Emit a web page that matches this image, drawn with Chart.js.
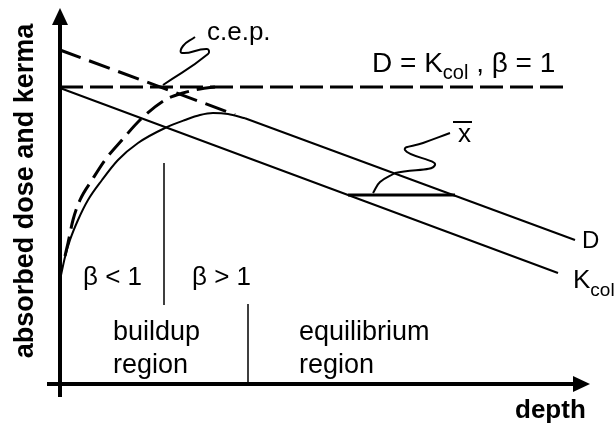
<!DOCTYPE html>
<html>
<head>
<meta charset="utf-8">
<script src="https://cdn.jsdelivr.net/npm/chart.js@4/dist/chart.umd.min.js"></script>
<style>
  body { margin: 0; background: #fff; }
  canvas { display: block; }
</style>
</head>
<body>
<canvas id="doseChart" width="614" height="426"></canvas>
<script>
// Depth / dose pairs, arbitrary units (origin at the axes corner)
const kcolLine = [[0, 296], [498, 111]];
const doseBuildup = [
  [0, 104], [5, 127], [10, 144], [18, 164], [28, 184], [42, 204], [58, 224],
  [78, 241], [105, 256], [125, 264], [140, 269], [153, 271], [168, 270],
  [185, 265.7],
];
const doseEquilibrium = [[185, 265.7], [515, 144]];
const doseExtrapolated = [[0, 334], [175, 269.4]];
const betaOneBuildup = [
  [5, 128], [8, 141], [13, 164], [20, 184], [32, 204], [45, 224], [62, 244],
  [80, 264], [105, 284], [123, 291], [140, 295], [155, 297],
];
const betaOneLevel = [[0, 297], [508, 297]];
const cepDivider = [[104, 221], [104, 79]];
const regionDivider = [[188, 80], [188, 0]];

// x-bar marker: horizontal step, angle arc and pointer squiggle
const shiftStep = [[288, 189], [395, 189]];
const shiftArc = [[313, 191], [320, 202], [335, 211]];
const shiftPointer = [[335, 211], [375, 219], [345, 234], [363, 241], [390, 251]];
const cepPointer = [[103, 299], [148, 330], [147, 335], [122, 331], [123, 338], [135, 347]];

const toPoints = (pairs) => pairs.map(([x, y]) => ({ x, y }));

function lineSet(pairs, opts) {
  return Object.assign({
    data: toPoints(pairs),
    showLine: true,
    borderColor: "#000",
    borderWidth: 2,
    pointRadius: 0,
    fill: false,
    clip: false,
    tension: 0,
  }, opts);
}

const FONT = '"Liberation Sans", Arial, sans-serif';

// Axes with arrowheads and all the text labels
const diagramPlugin = {
  id: "diagram",
  afterDatasetsDraw(chart) {
    const { ctx, scales } = chart;
    const px = (v) => scales.x.getPixelForValue(v);
    const py = (v) => scales.y.getPixelForValue(v);
    ctx.save();
    ctx.fillStyle = "#000";
    ctx.strokeStyle = "#000";
    ctx.lineWidth = 4;

    // dose axis
    ctx.beginPath();
    ctx.moveTo(px(0), py(-13));
    ctx.lineTo(px(0), py(360));
    ctx.stroke();
    ctx.beginPath();
    ctx.moveTo(px(0), py(376));
    ctx.lineTo(px(0) - 8, py(359));
    ctx.lineTo(px(0) + 8, py(359));
    ctx.closePath();
    ctx.fill();

    // depth axis
    ctx.beginPath();
    ctx.moveTo(px(-13), py(0));
    ctx.lineTo(px(515), py(0));
    ctx.stroke();
    ctx.beginPath();
    ctx.moveTo(px(530), py(0));
    ctx.lineTo(px(513), py(0) - 8);
    ctx.lineTo(px(513), py(0) + 8);
    ctx.closePath();
    ctx.fill();

    ctx.textBaseline = "alphabetic";
    ctx.textAlign = "left";

    // draws a run of [text, size, dy, bold] parts left to right
    const runs = (parts, x, y) => {
      let cx = px(x);
      parts.forEach(([t, size, dy, bold]) => {
        ctx.font = `${bold ? "bold " : ""}${size}px ${FONT}`;
        ctx.fillText(t, cx, py(y) + (dy || 0));
        cx += ctx.measureText(t).width;
      });
    };

    runs([["c.e.p.", 26]], 147, 344);
    runs([["D = K", 28], ["col", 20, 7], [" , \u03b2 = 1", 28]], 312, 312);
    runs([["\u03b2 < 1", 26]], 23, 99);
    runs([["\u03b2 > 1", 26]], 132, 99);
    runs([["buildup", 27]], 53, 44);
    runs([["region", 27]], 53, 11);
    runs([["equilibrium", 27]], 239, 44);
    runs([["region", 27]], 239, 11);
    runs([["D", 24]], 522, 136);
    runs([["K", 26], ["col", 19, 8]], 513, 96);
    runs([["depth", 26, 0, true]], 455, -34);

    // x-bar label
    runs([["x", 26]], 398, 242);
    ctx.lineWidth = 2;
    ctx.beginPath();
    ctx.moveTo(px(393), py(262));
    ctx.lineTo(px(412), py(262));
    ctx.stroke();

    // rotated dose axis title
    ctx.save();
    ctx.translate(px(-27), py(193));
    ctx.rotate(-Math.PI / 2);
    ctx.textAlign = "center";
    ctx.font = `bold 27px ${FONT}`;
    ctx.fillText("absorbed dose and kerma", 0, 0);
    ctx.restore();

    ctx.restore();
  },
};

new Chart(document.getElementById("doseChart"), {
  type: "scatter",
  data: {
    datasets: [
      lineSet(kcolLine),
      lineSet(doseBuildup, { cubicInterpolationMode: "monotone" }),
      lineSet(doseEquilibrium),
      lineSet(doseExtrapolated, { borderWidth: 3, borderDash: [22, 9] }),
      lineSet(betaOneBuildup, { borderWidth: 3, borderDash: [20, 8], cubicInterpolationMode: "monotone" }),
      lineSet(betaOneLevel, { borderWidth: 3, borderDash: [23, 7] }),
      lineSet(cepDivider, { borderWidth: 1.5 }),
      lineSet(regionDivider, { borderWidth: 1.5 }),
      lineSet(shiftStep, { borderWidth: 3 }),
      lineSet(shiftArc, { tension: 0.4 }),
      lineSet(shiftPointer, { tension: 0.5 }),
      lineSet(cepPointer, { tension: 0.5 }),
    ],
  },
  options: {
    responsive: false,
    animation: false,
    layout: { padding: 0 },
    scales: {
      x: { type: "linear", min: -60, max: 554, display: false },
      y: { type: "linear", min: -42, max: 384, display: false },
    },
    plugins: {
      legend: { display: false },
      tooltip: { enabled: false },
    },
  },
  plugins: [diagramPlugin],
});
</script>
</body>
</html>
